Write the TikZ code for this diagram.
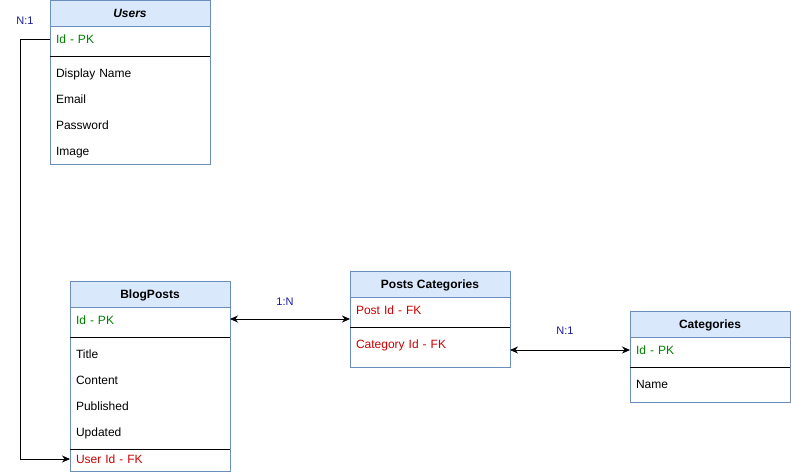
\documentclass[tikz,border=0pt]{standalone}
\usepackage{fontspec}
\setmainfont{Liberation Sans}
\usetikzlibrary{positioning,arrows.meta}
\definecolor{headfill}{HTML}{DAE8FC}
\definecolor{headdraw}{HTML}{6C8EBF}
\definecolor{pkgreen}{HTML}{007F00}
\definecolor{fkred}{HTML}{CC0000}
\definecolor{relblue}{HTML}{1A1A99}
\tikzstyle{head}=[draw=headdraw,fill=headfill,minimum width=160,minimum height=26,inner sep=0pt,outer sep=0pt,text height=8pt,text depth=0pt,font=\fontsize{12}{14}\selectfont\bfseries]
\tikzstyle{tbox}=[draw=headdraw,minimum width=160,inner sep=0pt,outer sep=0pt]
\tikzstyle{field}=[minimum height=26,text width=148,inner xsep=6,inner ysep=0pt,outer sep=0pt,text height=8pt,text depth=0pt,align=left]
\tikzstyle{pk}=[field,text=pkgreen]
\tikzstyle{fk}=[field,text=fkred]
\tikzstyle{rel}=[font=\fontsize{11}{13}\selectfont,text=relblue]
\tikzstyle{tip}=[{Stealth[length=8pt,width=7pt]}]

\begin{document}
\begin{tikzpicture}[x=1pt,y=-1pt,line width=0.8pt,font=\fontsize{12}{14}\selectfont]
\useasboundingbox (0,0) rectangle (791,475);

% Users
\node [head] (users) at (130,13) {\itshape Users};
\node [tbox, minimum height=138, below=0pt of users] (usersBox) {};
\node [pk, below=0pt of users] (usersId) {Id - PK};
\draw ([yshift=-4]usersId.south west) -- ([yshift=-4]usersId.south east);
\node [field, below=8pt of usersId] (usersName) {Display Name};
\node [field, below=0pt of usersName] (usersEmail) {Email};
\node [field, below=0pt of usersEmail] (usersPass) {Password};
\node [field, below=0pt of usersPass] (usersImage) {Image};

% BlogPosts
\node [head] (posts) at (150,294) {BlogPosts};
\node [tbox, minimum height=164, below=0pt of posts] (postsBox) {};
\node [pk, below=0pt of posts] (postsId) {Id - PK};
\draw ([yshift=-4]postsId.south west) -- ([yshift=-4]postsId.south east);
\node [field, below=8pt of postsId] (postsTitle) {Title};
\node [field, below=0pt of postsTitle] (postsContent) {Content};
\node [field, below=0pt of postsContent] (postsPublished) {Published};
\node [field, below=0pt of postsPublished] (postsUpdated) {Updated};
\draw ([yshift=-4]postsUpdated.south west) -- ([yshift=-4]postsUpdated.south east);
\node [fk, below=1pt of postsUpdated] (postsUser) {User Id - FK};

% Posts Categories
\node [head] (pc) at (430,284) {Posts Categories};
\node [tbox, minimum height=70, below=0pt of pc] (pcBox) {};
\node [fk, below=0pt of pc] (pcPost) {Post Id - FK};
\draw ([yshift=-4]pcPost.south west) -- ([yshift=-4]pcPost.south east);
\node [fk, below=8pt of pcPost] (pcCat) {Category Id - FK};

% Categories
\node [head] (cats) at (710,324) {Categories};
\node [tbox, minimum height=65, below=0pt of cats] (catsBox) {};
\node [pk, below=0pt of cats] (catsId) {Id - PK};
\draw ([yshift=-4]catsId.south west) -- ([yshift=-4]catsId.south east);
\node [field, below=8pt of catsId] (catsName) {Name};

% relations
\draw [-{Stealth[length=8pt,width=7pt]}] (usersId.west) -- ++(-30,0) |- (postsUser.west);
\node [rel] (relUsers) at (25,21) {N:1};
\draw [{Stealth[length=8pt,width=7pt]}-{Stealth[length=8pt,width=7pt]}] ([yshift=1]postsId.east) -- ([yshift=1]postsId.east -| pcBox.west) node[rel, midway, yshift=17, xshift=-5] {1:N};
\draw [{Stealth[length=8pt,width=7pt]}-{Stealth[length=8pt,width=7pt]}] (catsId.west -| pcBox.east) -- (catsId.west) node[rel, midway, yshift=19, xshift=-5] {N:1};

\end{tikzpicture}
\end{document}
